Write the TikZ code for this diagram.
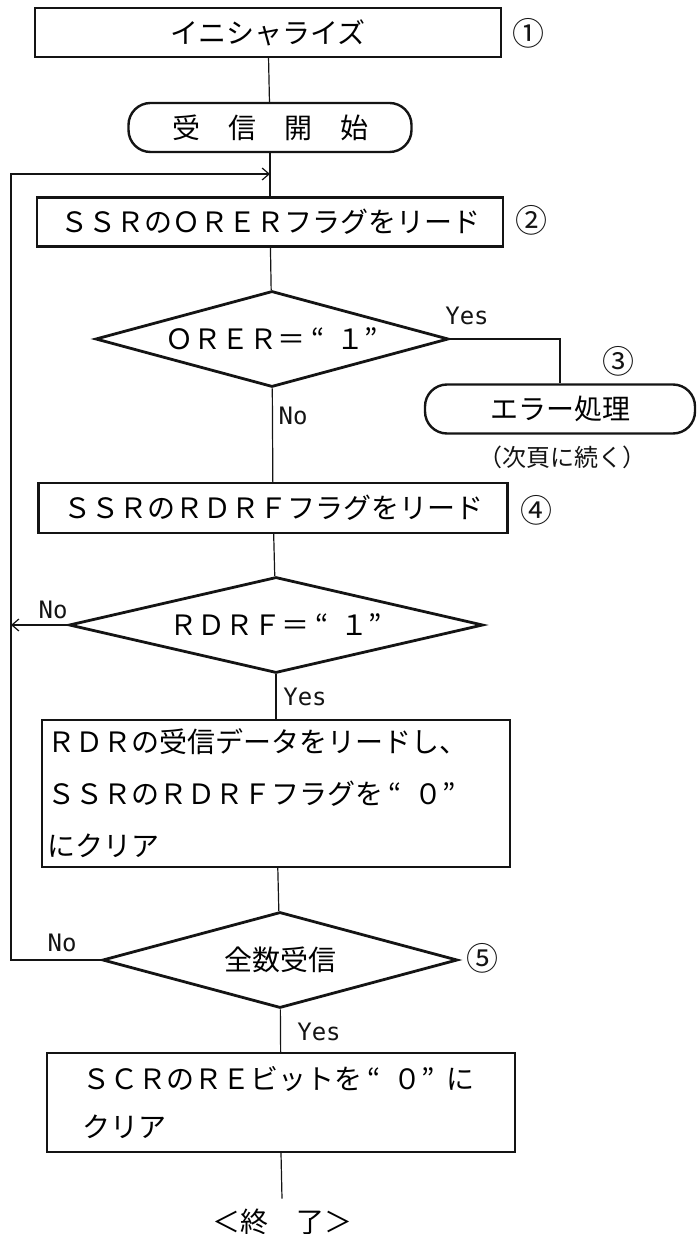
\documentclass[tikz,border=0pt]{standalone}
\usepackage{fontspec}
\setmainfont{Noto Sans CJK JP}
\newfontfamily\flowlatin{DejaVu Sans Mono}
\usetikzlibrary{arrows.meta,shapes.geometric}
\definecolor{FlowInk}{HTML}{141414}
\newcommand\qone[1]{\hspace{3pt}“\hspace{6pt}#1”}
\tikzset{
  flow/box/.style={
    rectangle, draw=FlowInk, line width=1.2pt, fill=white,
    minimum width=233pt, minimum height=24.5pt, inner sep=2pt,
    font=\fontsize{14pt}{17pt}\selectfont, align=center
  },
  flow/term/.style={flow/box, rounded corners=11pt},
  flow/decision/.style={
    diamond, draw=FlowInk, line width=1.4pt, fill=white,
    aspect=3.7, inner sep=0pt, minimum height=48pt,
    font=\fontsize{14pt}{17pt}\selectfont
  },
  flow/link/.style={draw=FlowInk, line width=.6pt},
  flow/loop/.style={flow/link, -{Straight Barb[length=3.5pt,width=6pt]}},
  flow/label/.style={font=\flowlatin\fontsize{12pt}{14pt}\selectfont, text=FlowInk},
  flow/mark/.style={font=\fontsize{16pt}{18pt}\selectfont, text=FlowInk},
  flow/note/.style={font=\fontsize{12pt}{14pt}\selectfont, text=FlowInk}
}
\begin{document}
\begin{tikzpicture}[x=.5pt,y=-.5pt]
  \useasboundingbox[fill=white] (0,0) rectangle (696,1234);
  \node[flow/box] (init) at (268,32.5) {イニシャライズ};
  \node[flow/mark] (m1) at (528,33) {①};
  \node[flow/term,minimum width=141.5pt] (start) at (270,127.5) {受　信　開　始};
  \node[flow/box] (rdorer) at (270,222) {ＳＳＲのＯＲＥＲフラグをリード};
  \node[flow/mark] (m2) at (531,220) {②};
  \node[flow/decision,minimum width=176.5pt] (orer) at (272,339) {ＯＲＥＲ＝\qone{１}};
  \node[flow/label] (yes1) at (467,316) {Yes};
  \node[flow/label] (no1) at (293,416) {No};
  \node[flow/mark] (m3) at (618,361) {③};
  \node[flow/term,minimum width=135pt] (err) at (560,409) {エラー処理};
  \node[flow/note] (errnote) at (562,457) {（次頁に続く）};
  \node[flow/box,minimum width=234.5pt,minimum height=25pt] (rdrdrf) at (273,508) {ＳＳＲのＲＤＲＦフラグをリード};
  \node[flow/mark] (m4) at (536,510) {④};
  \node[flow/decision,minimum width=207pt] (rdrf) at (276,625) {ＲＤＲＦ＝\qone{１}};
  \node[flow/label] (no2) at (53,610) {No};
  \node[flow/label] (yes2) at (305,697) {Yes};
  \node[flow/box,text width=229pt,inner xsep=2.5pt,minimum height=73.5pt,align=left,
    font=\fontsize{14pt}{26pt}\selectfont] (rddata) at (276,793.5)
    {ＲＤＲの受信データをリードし、\\ＳＳＲのＲＤＲＦフラグを\qone{０}\\にクリア};
  \node[flow/decision,minimum width=177.5pt] (all) at (280,960) {全数受信};
  \node[flow/label] (no3) at (62,943) {No};
  \node[flow/mark] (m5) at (482,958) {⑤};
  \node[flow/label] (yes3) at (319,1032) {Yes};
  \node[flow/box,text width=199pt,inner xsep=17.5pt,minimum height=49.5pt,align=left,
    font=\fontsize{14pt}{24pt}\selectfont] (clrre) at (281,1102.5)
    {ＳＣＲのＲＥビットを\qone{０}\hspace{6pt}に\\クリア};
  \node[font=\fontsize{14pt}{17pt}\selectfont,inner sep=5pt] (fin) at (282,1222) {＜終　了＞};
  \coordinate (loopin) at (270,174);
  \coordinate (loopbot) at (11,960);
  \draw[flow/link] (init) -- (start);
  \draw[flow/link] (start) -- (rdorer);
  \draw[flow/link] (rdorer) -- (orer);
  \draw[flow/link] (orer.east) -| (err.north);
  \draw[flow/link] (orer) -- (rdrdrf);
  \draw[flow/link] (rdrdrf) -- (rdrf);
  \draw[flow/loop] (rdrf.west) -- (rdrf.west -| loopbot);
  \draw[flow/link] (rdrf) -- (rddata);
  \draw[flow/link] (rddata) -- (all);
  \draw[flow/loop] (all.west) -- (loopbot) |- (loopin);
  \draw[flow/link] (all) -- (clrre);
  \draw[flow/link] (clrre.south) -- (fin.north);
\end{tikzpicture}
\end{document}
